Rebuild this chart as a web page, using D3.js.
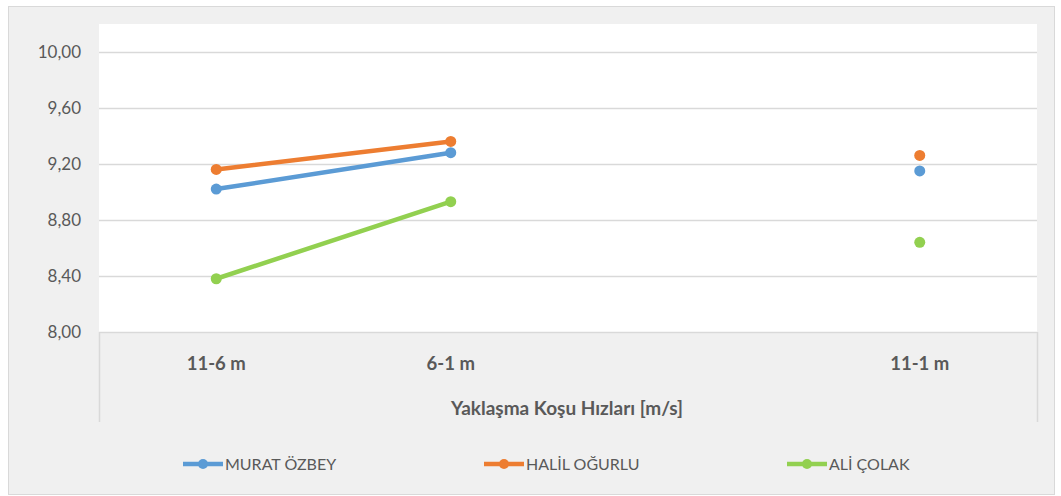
<!DOCTYPE html>
<html>
<head>
<meta charset="utf-8">
<script src="https://d3js.org/d3.v7.min.js"></script>
<style>
  body { margin: 0; background: white; }
  text { font-family: Lato, 'Open Sans', sans-serif; fill: #595959; }
</style>
</head>
<body>
<div id="chart"></div>
<script>
// categories (third one is an empty slot in the original chart)
var categories = ["11-6 m", "6-1 m", "", "11-1 m"];
var seriesNames = ["MURAT ÖZBEY", "HALİL OĞURLU", "ALİ ÇOLAK"];
var murat = [9.02, 9.28, null, 9.15];
var halil = [9.16, 9.36, null, 9.26];
var ali   = [8.38, 8.93, null, 8.64];
var colors = ["#5b9bd5", "#ed7d31", "#92d050"];
var yTicks = [8.0, 8.4, 8.8, 9.2, 9.6, 10.0];

var width = 1061, height = 496;
var svg = d3.select("#chart").append("svg").attr("width", width).attr("height", height);

// chart background + border
svg.append("rect").attr("x", 8.5).attr("y", 6.5).attr("width", 1046).attr("height", 488)
  .attr("fill", "#f0f0f0").attr("stroke", "#d9d9d9");

var plot = { left: 99, right: 1037, top: 24, bottom: 332 };
svg.append("rect").attr("x", plot.left).attr("y", plot.top)
  .attr("width", plot.right - plot.left).attr("height", plot.bottom - plot.top).attr("fill", "white");

var x = d3.scaleBand().domain(categories).range([plot.left, plot.right]);
var y = d3.scaleLinear().domain([8, 10]).range([plot.bottom, 51.8]);

// gridlines
svg.append("g").selectAll("line").data(yTicks).enter().append("line")
  .attr("x1", plot.left).attr("x2", plot.right)
  .attr("y1", function(d) { return Math.round(y(d)) + 0.5; })
  .attr("y2", function(d) { return Math.round(y(d)) + 0.5; })
  .attr("stroke", "#d9d9d9").attr("stroke-width", 1.5);

// y labels
svg.append("g").selectAll("text").data(yTicks).enter().append("text")
  .attr("x", 81).attr("y", function(d) { return y(d) + 6; })
  .attr("text-anchor", "end").style("font-size", "17px")
  .text(function(d) { return d3.format(".2f")(d).replace(".", ","); });

// x axis box sides
[plot.left, plot.right].forEach(function(px) {
  svg.append("line").attr("x1", px + 0.5).attr("x2", px + 0.5).attr("y1", plot.bottom).attr("y2", 422)
    .attr("stroke", "#d9d9d9").attr("stroke-width", 1.5);
});

// category labels
svg.append("g").selectAll("text").data(categories).enter().append("text")
  .attr("x", function(d) { return x(d) + x.bandwidth() / 2; })
  .attr("y", 370).attr("text-anchor", "middle")
  .style("font-size", "18.5px").style("font-weight", "bold")
  .text(function(d) { return d; });

// axis title
svg.append("text").attr("x", (plot.left + plot.right) / 2 - 1).attr("y", 415)
  .attr("text-anchor", "middle").style("font-size", "19px").style("font-weight", "bold")
  .text("Yaklaşma Koşu Hızları [m/s]");

// series
var allSeries = [murat, halil, ali];
var line = d3.line()
  .defined(function(d) { return d !== null; })
  .x(function(d, i) { return x(categories[i]) + x.bandwidth() / 2; })
  .y(function(d) { return y(d); });

allSeries.forEach(function(vals, s) {
  // a line is only drawn between adjacent points
  svg.append("path").datum(vals).attr("d", line)
    .attr("fill", "none").attr("stroke", colors[s]).attr("stroke-width", 4.5)
    .attr("stroke-linecap", "round");
  svg.append("g").selectAll("circle")
    .data(vals.map(function(v, i) { return { v: v, i: i }; }).filter(function(d) { return d.v !== null; }))
    .enter().append("circle")
    .attr("cx", function(d) { return x(categories[d.i]) + x.bandwidth() / 2; })
    .attr("cy", function(d) { return y(d.v); })
    .attr("r", 5.5).attr("fill", colors[s]);
});

// legend
var legendX = [183, 484, 787];
seriesNames.forEach(function(name, s) {
  var g = svg.append("g").attr("transform", "translate(" + legendX[s] + ",464)");
  g.append("line").attr("x1", 0).attr("x2", 40).attr("stroke", colors[s]).attr("stroke-width", 4.5);
  g.append("circle").attr("cx", 20).attr("r", 5).attr("fill", colors[s]);
  g.append("text").attr("x", 42).attr("y", 6).style("font-size", "16px").text(name);
});
</script>
</body>
</html>
